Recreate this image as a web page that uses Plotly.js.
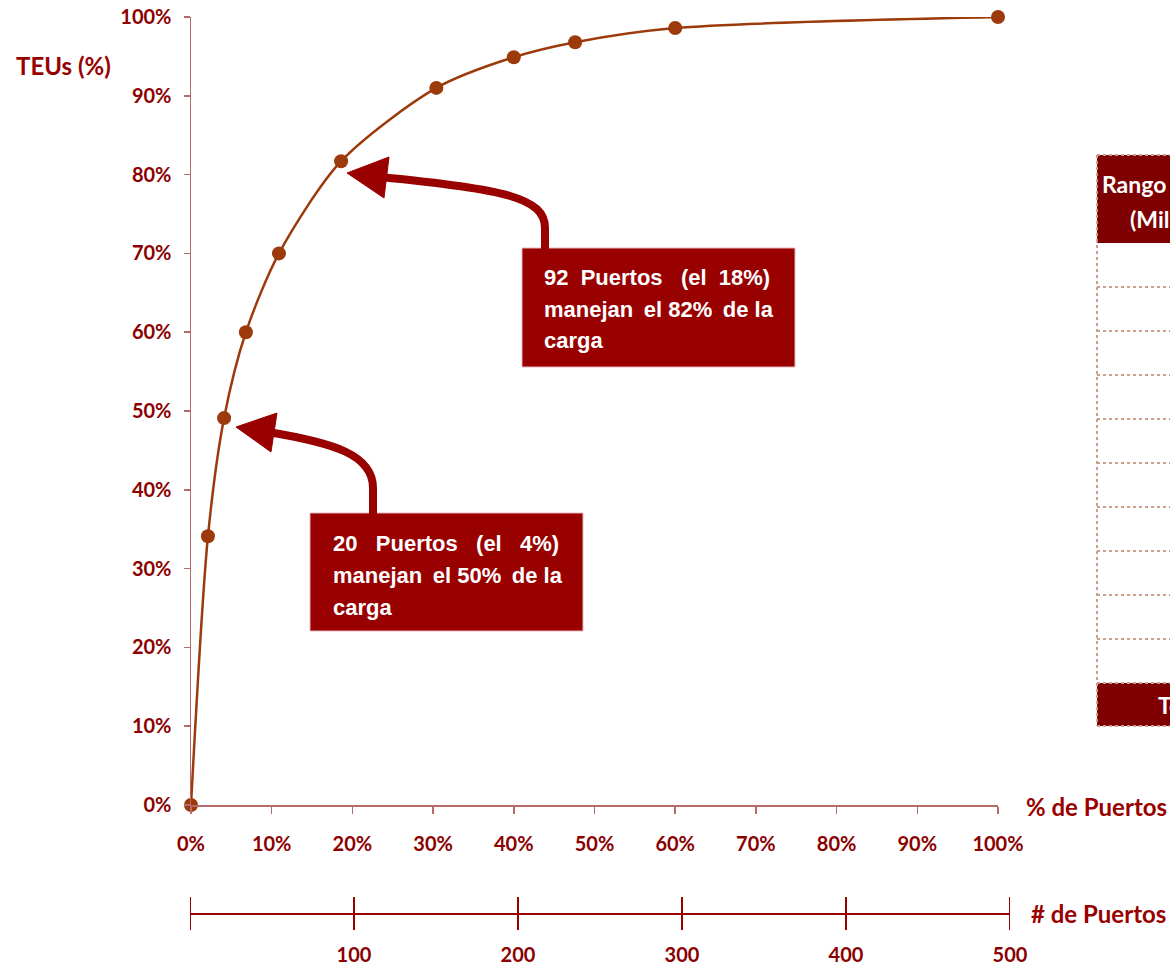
<!DOCTYPE html>
<html>
<head>
<meta charset="utf-8">
<script src="https://cdn.plot.ly/plotly-3.0.1.min.js"></script>
<style>
html,body{margin:0;padding:0;overflow:hidden;background:#fff;}
#chart{width:1170px;height:965px;}
</style>
</head>
<body>
<div id="chart"></div>
<script>
// ---- data ----
const pctPorts = [0, 0.021, 0.041, 0.068, 0.109, 0.186, 0.304, 0.400, 0.476, 0.600, 1.0];
const pctTEUs  = [0, 0.341, 0.491, 0.600, 0.700, 0.817, 0.910, 0.949, 0.968, 0.986, 1.0];
const portCountTicks = [0, 100, 200, 300, 400, 500];
const portCountLabels = ['100', '200', '300', '400', '500'];
const NB = '\u00a0', TS = '\u2009';
const note1Lines = ['20' + NB + NB + NB + 'Puertos' + NB + NB + NB + '(el' + NB + NB + NB + '4%)', 'manejan ' + TS + 'el 50% ' + TS + 'de la', 'carga'];
const note2Lines = ['92' + NB + NB + 'Puertos' + NB + NB + NB + '(el' + NB + NB + '18%)', 'manejan ' + TS + 'el 82% ' + TS + 'de la', 'carga'];
const tableHeader = ['Rango de TEUs', '(Miles)'];
const tableRows = ['', '', '', '', '', '', '', '', '', ''];
const tableFooter = 'Total';

// ---- helpers (pixel -> paper) ----
const W = 1170, H = 965;
const px = x => x / W;
const py = y => 1 - y / H;
const pt = (x, y) => px(x).toFixed(5) + ',' + py(y).toFixed(5);

const DARK = '#8b0000';
const RED = '#990000';
const AXIS = '#b86a6a';
const CURVE = '#9c3a0b';

const traces = [
  {
    x: pctPorts, y: pctTEUs, type: 'scatter', mode: 'lines+markers',
    line: {color: CURVE, width: 2.5, shape: 'spline', smoothing: 0.8},
    marker: {color: CURVE, size: 14},
    cliponaxis: false, showlegend: false, hoverinfo: 'x+y'
  },
  {
    x: [portCountTicks[0], portCountTicks[portCountTicks.length - 1]], y: [0, 0],
    xaxis: 'x2', yaxis: 'y2', type: 'scatter', mode: 'lines',
    opacity: 0, showlegend: false, hoverinfo: 'skip'
  }
];

const shapes = [];
// ticks crossing the "# de Puertos" line
portCountTicks.forEach(v => {
  shapes.push({type: 'line', xref: 'x2', yref: 'paper', x0: v, x1: v, y0: py(897), y1: py(930),
    line: {color: RED, width: 2}});
});
// annotation boxes
shapes.push({type: 'rect', xref: 'paper', yref: 'paper', x0: px(310), x1: px(583), y0: py(513), y1: py(631),
  fillcolor: RED, line: {color: '#e8b8b8', width: 1}});
shapes.push({type: 'rect', xref: 'paper', yref: 'paper', x0: px(522), x1: px(795), y0: py(248), y1: py(367),
  fillcolor: RED, line: {color: '#e8b8b8', width: 1}});
// curved arrows
shapes.push({type: 'path', xref: 'paper', yref: 'paper',
  path: 'M' + pt(373, 514) + ' L' + pt(373, 488) + ' C' + pt(373, 455) + ' ' + pt(335, 443) + ' ' + pt(268, 432),
  line: {color: RED, width: 8}, fillcolor: 'rgba(0,0,0,0)'});
shapes.push({type: 'path', xref: 'paper', yref: 'paper',
  path: 'M' + pt(236, 427) + ' L' + pt(277, 413) + ' L' + pt(271, 452) + ' Z',
  line: {color: RED, width: 1}, fillcolor: RED});
shapes.push({type: 'path', xref: 'paper', yref: 'paper',
  path: 'M' + pt(545, 249) + ' L' + pt(545, 228) + ' C' + pt(545, 198) + ' ' + pt(505, 189) + ' ' + pt(380, 177),
  line: {color: RED, width: 8}, fillcolor: 'rgba(0,0,0,0)'});
shapes.push({type: 'path', xref: 'paper', yref: 'paper',
  path: 'M' + pt(347, 173) + ' L' + pt(389, 157) + ' L' + pt(384, 198) + ' Z',
  line: {color: RED, width: 1}, fillcolor: RED});

// table (partially visible at right edge)
const tX0 = 1097, tTop = 155, headH = 88, rowH = 44, footH = 43;
const BORDER = '#c9a08c';
shapes.push({type: 'rect', xref: 'paper', yref: 'paper', x0: px(tX0), x1: px(1200), y0: py(tTop), y1: py(tTop + headH),
  fillcolor: '#7f0000', line: {width: 0}});
const footTop = tTop + headH + tableRows.length * rowH;
shapes.push({type: 'rect', xref: 'paper', yref: 'paper', x0: px(tX0), x1: px(1200), y0: py(footTop), y1: py(footTop + footH),
  fillcolor: '#7f0000', line: {width: 0}});
tableRows.forEach((r, i) => {
  const y = tTop + headH + (i + 1) * rowH;
  shapes.push({type: 'line', xref: 'paper', yref: 'paper', x0: px(tX0), x1: px(1200), y0: py(y), y1: py(y),
    line: {color: BORDER, width: 2, dash: 'dot'}});
});
shapes.push({type: 'line', xref: 'paper', yref: 'paper', x0: px(tX0), x1: px(1200), y0: py(tTop), y1: py(tTop),
  line: {color: BORDER, width: 2, dash: 'dot'}});
shapes.push({type: 'line', xref: 'paper', yref: 'paper', x0: px(tX0), x1: px(1200), y0: py(footTop + footH), y1: py(footTop + footH),
  line: {color: BORDER, width: 2, dash: 'dot'}});
shapes.push({type: 'line', xref: 'paper', yref: 'paper', x0: px(tX0), x1: px(tX0), y0: py(tTop), y1: py(footTop + footH),
  line: {color: BORDER, width: 2, dash: 'dot'}});

const F = 'Lato, "Open Sans", sans-serif';
const NF = '"Liberation Sans", Arial, sans-serif';
const annotations = [
  {text: 'TEUs (%)', xref: 'paper', yref: 'paper', x: px(14), y: py(66), xanchor: 'left', yanchor: 'middle',
    showarrow: false, font: {family: F, size: 24, color: RED, weight: 700}},
  {text: '% de Puertos', xref: 'paper', yref: 'paper', x: px(1024), y: py(806), xanchor: 'left', yanchor: 'middle',
    showarrow: false, font: {family: F, size: 24, color: RED, weight: 700}},
  {text: '# de Puertos', xref: 'paper', yref: 'paper', x: px(1029), y: py(913), xanchor: 'left', yanchor: 'middle',
    showarrow: false, font: {family: F, size: 24, color: RED, weight: 700}},
  {text: tableHeader[0], xref: 'paper', yref: 'paper', x: px(1100), y: py(184), xanchor: 'left', yanchor: 'middle',
    showarrow: false, font: {family: F, size: 23, color: '#ffffff', weight: 700}},
  {text: tableHeader[1], xref: 'paper', yref: 'paper', x: px(1128), y: py(219), xanchor: 'left', yanchor: 'middle',
    showarrow: false, font: {family: F, size: 23, color: '#ffffff', weight: 700}},
  {text: tableFooter, xref: 'paper', yref: 'paper', x: px(1156), y: py(705), xanchor: 'left', yanchor: 'middle',
    showarrow: false, font: {family: F, size: 23, color: '#ffffff', weight: 700}}
];
note1Lines.forEach((t, i) => annotations.push({text: t, xref: 'paper', yref: 'paper', x: px(331), y: py(543 + i * 32),
  xanchor: 'left', yanchor: 'middle', showarrow: false, font: {family: NF, size: 22, color: '#ffffff', weight: 700}}));
note2Lines.forEach((t, i) => annotations.push({text: t, xref: 'paper', yref: 'paper', x: px(542), y: py(277 + i * 32),
  xanchor: 'left', yanchor: 'middle', showarrow: false, font: {family: NF, size: 22, color: '#ffffff', weight: 700}}));

const tickFont = {family: F, size: 20, color: DARK, weight: 700};
const layout = {
  width: W, height: H,
  margin: {l: 0, r: 0, t: 0, b: 0},
  paper_bgcolor: '#ffffff', plot_bgcolor: 'rgba(0,0,0,0)',
  showlegend: false,
  xaxis: {
    domain: [px(191), px(998)], range: [0, 1], dtick: 0.1, tickformat: '.0%',
    showgrid: false, zeroline: false, showline: true, linecolor: AXIS, linewidth: 1.5,
    ticks: 'outside', ticklen: 7, tickcolor: AXIS, tickwidth: 1.5,
    ticklabelstandoff: 13, tickfont: tickFont, fixedrange: true
  },
  yaxis: {
    domain: [py(805), py(17)], range: [0, 1], dtick: 0.1, tickformat: '.0%',
    showgrid: false, zeroline: false, showline: true, linecolor: AXIS, linewidth: 1.5,
    ticks: 'outside', ticklen: 6, tickcolor: AXIS, tickwidth: 1.5,
    ticklabelstandoff: 8, tickfont: tickFont, fixedrange: true
  },
  xaxis2: {
    domain: [px(190), px(1010)], range: [0, 500], anchor: 'free', position: py(914),
    tickvals: portCountTicks.slice(1), ticktext: portCountLabels,
    showgrid: false, zeroline: false, showline: true, linecolor: RED, linewidth: 2,
    ticks: '', ticklabelstandoff: 23, tickfont: tickFont, fixedrange: true
  },
  yaxis2: {
    domain: [0, 0.04], anchor: 'x2', visible: false, fixedrange: true
  },
  shapes: shapes,
  annotations: annotations
};

Plotly.newPlot('chart', traces, layout, {displayModeBar: false, staticPlot: true});
</script>
</body>
</html>
